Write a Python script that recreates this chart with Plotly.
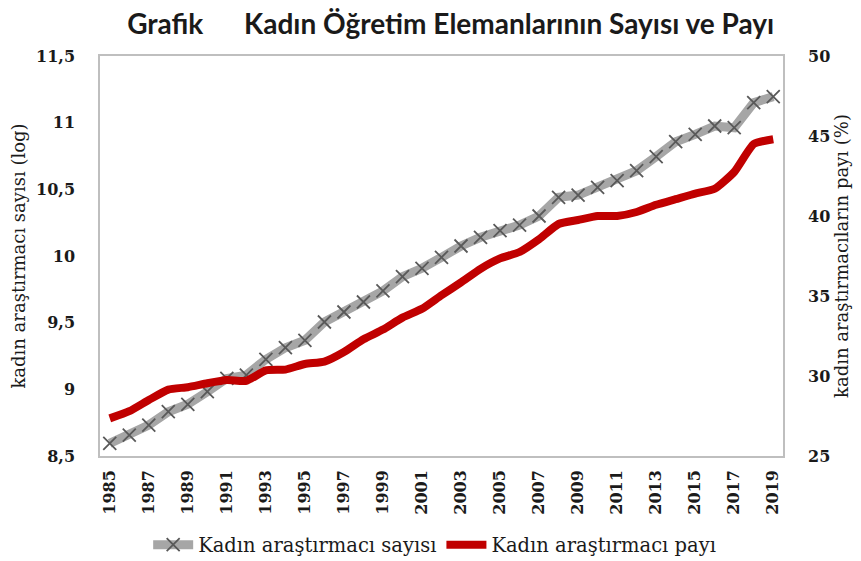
import plotly.graph_objects as go

years = list(range(1985, 2020))
count_log = [8.595, 8.657, 8.732, 8.832, 8.888, 8.982, 9.082, 9.107, 9.225, 9.312,
             9.368, 9.505, 9.580, 9.655, 9.738, 9.845, 9.908, 9.990, 10.075, 10.140,
             10.190, 10.232, 10.300, 10.440, 10.457, 10.515, 10.565, 10.640, 10.745, 10.857,
             10.912, 10.975, 10.962, 11.150, 11.195]
share_pct = [27.35, 27.8, 28.5, 29.15, 29.3, 29.55, 29.75, 29.7, 30.35, 30.4,
             30.75, 30.9, 31.5, 32.3, 32.9, 33.65, 34.2, 35.05, 35.85, 36.7,
             37.35, 37.75, 38.55, 39.5, 39.75, 40.0, 40.0, 40.25, 40.7, 41.05,
             41.4, 41.7, 42.75, 44.5, 44.8]
x_tick_vals = list(range(1985, 2020, 2))
x_tick_text = [str(v) for v in x_tick_vals]
left_ticks = [8.5, 9, 9.5, 10, 10.5, 11, 11.5]
left_tick_text = ["8,5", "9", "9,5", "10", "10,5", "11", "11,5"]
right_ticks = [25, 30, 35, 40, 45, 50]

SERIF = "DejaVu Serif"

fig = go.Figure()
fig.add_trace(go.Scatter(
    x=years, y=count_log, name="Kadın araştırmacı sayısı", mode="lines+markers",
    line=dict(color="#a6a6a6", width=9),
    marker=dict(symbol="x-thin", size=13, line=dict(color="#595959", width=1.8), color="#595959"),
    yaxis="y"))
fig.add_trace(go.Scatter(
    x=years, y=share_pct, name="Kadın araştırmacı payı", mode="lines",
    line=dict(color="#c00000", width=8, shape="spline", smoothing=0.5),
    yaxis="y2"))

# page body adds an 8px offset, so the figure is sized 853x553
fig.update_layout(
    width=853, height=553,
    margin=dict(l=92, r=78, t=48, b=105, autoexpand=False),
    paper_bgcolor="white", plot_bgcolor="white",
    title=dict(text="Grafik\u00a0\u00a0\u00a0\u00a0\u00a0\u00a0Kadın Öğretim Elemanlarının Sayısı ve Payı",
               font=dict(family="Lato", size=28, color="#1a1a1a", weight="bold"),
               x=0.519, xanchor="center", xref="container", y=0.97, yanchor="middle"),
    xaxis=dict(range=[1984.5, 2019.5], tickmode="array", tickvals=x_tick_vals, ticktext=x_tick_text,
               tickangle=-90, tickfont=dict(family=SERIF, size=16, color="#1a1a1a", weight="bold"),
               showgrid=False, zeroline=False, showline=True, linecolor="#bfbfbf", linewidth=1.5,
               mirror=True, ticks="", ticklabelstandoff=6),
    yaxis=dict(range=[8.5, 11.5], tickmode="array", tickvals=left_ticks, ticktext=left_tick_text,
               tickfont=dict(family=SERIF, size=16, color="#1a1a1a", weight="bold"),
               showgrid=False, zeroline=False, showline=True, linecolor="#bfbfbf", linewidth=1.5,
               mirror=True, ticks="", ticklabelstandoff=20,
               title=dict(text="kadın araştırmacı sayısı (log)", font=dict(family=SERIF, size=18, color="#1a1a1a"),
                          standoff=8)),
    yaxis2=dict(range=[25, 50], tickmode="array", tickvals=right_ticks, overlaying="y", side="right",
                tickfont=dict(family=SERIF, size=16, color="#1a1a1a", weight="bold"),
                showgrid=False, zeroline=False, showline=False, ticks="", ticklabelstandoff=24,
                title=dict(text="kadın araştırmacıların payı (%)", font=dict(family=SERIF, size=18, color="#1a1a1a"),
                           standoff=6)),
    legend=dict(orientation="h", x=0.49, xanchor="center", y=-0.2225, yanchor="middle",
                font=dict(family=SERIF, size=19.5, color="#1a1a1a"), itemwidth=40,
                bgcolor="rgba(0,0,0,0)"),
    showlegend=True,
)

fig.write_html("out.html")
